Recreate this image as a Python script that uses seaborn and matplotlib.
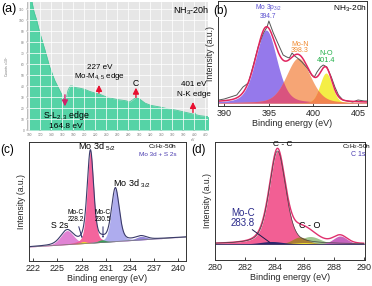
import numpy as np
import pandas as pd
import seaborn as sns
import matplotlib
matplotlib.use("Agg")
import matplotlib.pyplot as plt

# ---------------- data ----------------
# (a) EELS spectrum
ev_a = [100, 104, 108, 113, 119, 128, 137, 146, 155, 160, 163, 165, 167, 170, 174, 178,
        185, 192, 200, 210, 220, 228, 240, 252, 262, 270, 276, 282, 288, 294, 298, 302,
        310, 320, 336, 350, 367, 380, 395, 400, 401, 402, 410, 427]
counts_a = [130, 118, 108, 100, 88, 73, 57, 45, 36, 31, 27, 26, 29, 36, 40, 40,
            38.5, 38, 37, 35, 33.5, 32.5, 30, 28.5, 27.5, 27, 26.5, 25.5, 27.5, 30, 29, 27.5,
            24.5, 22.5, 21, 19.5, 18, 16.5, 14.8, 14.2, 15.5, 14, 13, 12]
xticks_a = list(range(100, 421, 20))
yticks_a = list(range(0, 111, 10))

# (b) N 1s / Mo 3p raw data
ev_b = [389.4, 390.0, 390.7, 391.4, 392.1, 392.7, 393.2, 393.8, 394.4, 394.8, 395.0, 395.5,
        396.0, 396.6, 397.0, 397.3, 397.6, 397.9, 398.2, 398.7, 399.3, 399.8, 400.1, 400.4,
        400.8, 401.1, 401.5, 402.0, 402.4, 402.8, 403.3, 403.8, 404.4, 405.0, 405.7, 406.0]
int_b = [3, 4, 6, 8, 16, 20, 36, 56, 70, 76, 82, 70,
         60, 48, 46, 45, 50, 47, 45, 41, 35, 28, 26, 31,
         36, 38, 36, 26, 16, 8, 3, 2, 1, 3, 2, 2]
# components: center, height, fwhm, lorentz fraction
peaks_b = {"Mo 3p": (394.7, 73, 2.8, 0.3),
           "Mo-N": (398.3, 45, 3.2, 0.3),
           "N-O": (401.4, 30, 1.6, 0.15)}

# (c) Mo 3d + S 2s
base_c = (14, 24)     # background at left/right limit
peaks_c = {"S 2s": (226.2, 14, 1.9, 0.3),
           "Mo-C 228.2": (228.2, 2, 1.0, 0.2),
           "Mo 3d5/2": (229.1, 92, 0.95, 0.35),
           "Mo-C 230.5": (230.5, 2.5, 1.2, 0.2),
           "Mo 3d3/2": (232.2, 53, 1.15, 0.35),
           "sat": (235.4, 3.5, 1.6, 0.2)}
xticks_c = [222, 225, 228, 231, 234, 237, 240]

# (d) C 1s
base_d = 16
peaks_d = {"C-C": (284.2, 93, 1.3, 0.4),
           "Mo-C": (283.8, 2.5, 1.8, 0.2),
           "C-O": (285.7, 7, 1.2, 0.2),
           "C=O": (286.4, 7.5, 1.6, 0.2),
           "y": (286.0, 1.5, 1.5, 0.2),
           "O-C=O": (288.4, 8, 1.1, 0.2)}
xticks_d = [280, 282, 284, 286, 288, 290]

# ---------------- style ----------------
sns.set_theme(style="ticks")
plt.rcParams["font.family"] = ["Liberation Sans", "DejaVu Sans"]
plt.rcParams["mathtext.fontset"] = "custom"
plt.rcParams["mathtext.rm"] = "Liberation Sans"
plt.rcParams["mathtext.it"] = "Liberation Sans:italic"
plt.rcParams["mathtext.default"] = "regular"

W, H = 372, 286
fig = plt.figure(figsize=(W / 100, H / 100), dpi=100)


def P(x, y):
    return x / W, 1 - y / H


def add_ax(l, t, r, b):
    return fig.add_axes([l / W, 1 - b / H, (r - l) / W, (b - t) / H])


def pv(x, c, h, w, eta):
    g = np.exp(-4 * np.log(2) * ((x - c) / w) ** 2)
    lo = 1 / (1 + 4 * ((x - c) / w) ** 2)
    return h * ((1 - eta) * g + eta * lo)


def txt(x, y, s, fs=6, color="black", **kw):
    fig.text(*P(x, y), s, ha="center", va="center", fontsize=fs, color=color, **kw)


def style_xps(ax, xlim, xticks, ylim):
    ax.set_xlim(*xlim)
    ax.set_ylim(*ylim)
    ax.set_xticks(xticks)
    ax.set_yticks([])
    ax.tick_params(axis="x", direction="in", length=2, width=0.6, labelsize=6.5, pad=2)
    for s in ax.spines.values():
        s.set_linewidth(0.7)
        s.set_color("#333333")
    ax.set_xlabel("Binding energy (eV)", fontsize=6.5, labelpad=1)
    ax.set_ylabel("Intensity (a.u.)", fontsize=6.2, labelpad=2)


# ---------------- (a) ----------------
axA = add_ax(27, 2, 208, 130)
axA.set_facecolor("#e6e6e6")
dfa = pd.DataFrame({"eV": ev_a, "counts": counts_a})
axA.fill_between(dfa["eV"], dfa["counts"], color="#55d3a6", lw=0)
sns.lineplot(data=dfa, x="eV", y="counts", ax=axA, color="#48c89a", lw=0.6)
axA.set_xlim(95.5, 424.6)
axA.set_ylim(0, 116.4)
axA.set_xticks(xticks_a)
axA.set_yticks(yticks_a)
axA.grid(True, color="white", lw=0.7, alpha=0.75)
axA.set_axisbelow(False)
axA.tick_params(labelsize=2.3, length=1, width=0.3, colors="#777777", pad=1)
for s in axA.spines.values():
    s.set_visible(False)
axA.spines["left"].set_visible(True)
axA.spines["left"].set_color("#aaaaaa")
axA.spines["left"].set_linewidth(0.5)
axA.set_xlabel("eV", fontsize=2.5, color="#777777", labelpad=0.5)
axA.xaxis.set_label_coords(0.92, -0.065)
axA.set_ylabel(r"Counts x 10$^3$", fontsize=2.5, color="#777777", labelpad=6)

arrow_kw = dict(arrowstyle="-|>,head_width=0.35,head_length=0.7", lw=1.0,
                color="#e81030", mutation_scale=5, shrinkA=0, shrinkB=0)
axA.annotate("", xy=(226.4, 41), xytext=(226.4, 33.5), arrowprops=arrow_kw)
axA.annotate("", xy=(293.6, 38.5), xytext=(293.6, 29.5), arrowprops=arrow_kw)
axA.annotate("", xy=(397.3, 25.5), xytext=(397.3, 16), arrowprops=arrow_kw)
arrow_s = dict(arrow_kw)
arrow_s["color"] = "#d0206a"
axA.annotate("", xy=(164.5, 21.5), xytext=(164.5, 32), arrowprops=arrow_s)

txt(9, 9, "(a)", fs=9)
txt(191, 11, r"NH$_3$-20h", fs=6.5)
txt(100, 68, "227 eV", fs=5.8)
txt(100, 76.5, r"Mo-M$_{4,5}$ edge", fs=5.8)
txt(136, 84, "C", fs=6.2)
txt(194, 85, "401 eV", fs=5.8)
txt(194, 94.5, "N-K edge", fs=5.8)
txt(67, 116, r"S-L$_{2,3}$ edge", fs=6.3)
txt(66, 127, "164.8 eV", fs=6)

# ---------------- (b) ----------------
axB = add_ax(218, 1, 367, 106)
xb = np.linspace(389.3, 406.0, 600)
comp_b = {k: pv(xb, *v) for k, v in peaks_b.items()}
colors_b = {"Mo 3p": "#8f72ea", "Mo-N": "#f6a06e", "N-O": "#f4ee3c"}
for k, y in comp_b.items():
    axB.fill_between(xb, 0, y, color=colors_b[k], lw=0, alpha=0.95)
axB.fill_between(xb, 0, np.minimum(comp_b["Mo 3p"], comp_b["Mo-N"]), color="#d9537f", lw=0)
axB.fill_between(xb, 0, np.minimum(comp_b["Mo-N"], comp_b["N-O"]), color="#f2844e", lw=0)
env_b = sum(comp_b.values())
sns.lineplot(x=ev_b, y=int_b, ax=axB, color="#555555", lw=0.7)
sns.lineplot(x=xb, y=env_b, ax=axB, color="#e0245e", lw=1.1)
style_xps(axB, (389.3, 406.0), [390, 395, 400, 405], (-3, 102))

txt(220, 11, "(b)", fs=8.5, bbox=dict(facecolor="white", edgecolor="none", pad=0.3))
txt(350, 9, r"NH$_3$-20h", fs=6)
txt(268, 7.5, r"Mo 3p$_{3/2}$", fs=4.8, color="#5a4fcf")
txt(268, 16, "394.7", fs=4.8, color="#5a4fcf")
txt(300, 44, "Mo-N", fs=5, color="#f08a30")
txt(300, 51, "398.3", fs=5, color="#f08a30")
txt(326, 54, "N-O", fs=5.3, color="#22b04a")
txt(326, 61, "401.4", fs=5.3, color="#22b04a")

# ---------------- (c) ----------------
axC = add_ax(29, 142, 186, 261)
xc = np.linspace(221.47, 240.97, 800)
bg_c = base_c[0] + (xc - xc[0]) * (base_c[1] - base_c[0]) / (xc[-1] - xc[0])
comp_c = {k: pv(xc, *v) for k, v in peaks_c.items()}
colors_c = {"S 2s": "#e07cd2", "Mo-C 228.2": "#f0e020", "Mo 3d5/2": "#f45c98",
            "Mo-C 230.5": "#2fa050", "Mo 3d3/2": "#aaa8ee", "sat": "#8f80dc"}
for k in ["S 2s", "Mo 3d5/2", "Mo 3d3/2", "sat", "Mo-C 228.2", "Mo-C 230.5"]:
    axC.fill_between(xc, bg_c, bg_c + comp_c[k], color=colors_c[k], lw=0, alpha=0.95)
env_c = bg_c + sum(comp_c.values())
sns.lineplot(x=xc, y=bg_c, ax=axC, color="#777777", lw=0.5)
sns.lineplot(x=xc, y=env_c, ax=axC, color="#3a3a6a", lw=0.8)
style_xps(axC, (221.47, 240.97), xticks_c, (0, 119))

txt(7, 150, "(c)", fs=8.5)
txt(97, 147, r"Mo 3d $_{5/2}$", fs=6.5)
txt(132, 184, r"Mo 3d $_{3/2}$", fs=6.5)
txt(60, 226, "S 2s", fs=6.3)
txt(76, 212.5, "Mo-C", fs=4.8)
txt(76, 219.5, "228.2", fs=4.8)
txt(103, 212.5, "Mo-C", fs=4.8)
txt(103, 219.5, "230.5", fs=4.8)
ak = dict(arrowstyle="-|>,head_width=0.12,head_length=0.3", lw=0.7, color="#2a2a6a")
fig.add_artist(matplotlib.patches.FancyArrowPatch(P(78, 224), P(83, 241), transform=fig.transFigure, **ak))
fig.add_artist(matplotlib.patches.FancyArrowPatch(P(103, 224), P(103, 241), transform=fig.transFigure, **ak))
txt(163, 146.5, r"C$_2$H$_2$-50h", fs=4.6)
txt(158, 154, "Mo 3d + S 2s", fs=4.6, color="#4a3cb0")

# ---------------- (d) ----------------
axD = add_ax(215, 142, 365, 260)
xd = np.linspace(280, 290, 600)
comp_d = {k: pv(xd, *v) for k, v in peaks_d.items()}
colors_d = {"C-C": "#f2568e", "Mo-C": "#22226a", "C-O": "#a97c30", "C=O": "#9cc48a",
            "y": "#f0e030", "O-C=O": "#c45cbc"}
for k in ["C-C", "C=O", "C-O", "O-C=O", "y", "Mo-C"]:
    axD.fill_between(xd, base_d, base_d + comp_d[k], color=colors_d[k], lw=0, alpha=0.95)
env_d = base_d + sum(comp_d.values())
sns.lineplot(x=xd, y=env_d, ax=axD, color="#e0306e", lw=1.0)
sns.lineplot(x=xd, y=base_d + comp_d["C-C"], ax=axD, color="#444444", lw=0.5)
sns.lineplot(x=xd, y=np.full_like(xd, base_d), ax=axD, color="#333366", lw=0.6)
style_xps(axD, (280, 290.07), xticks_d, (0, 118))

txt(199, 150, "(d)", fs=8.5)
txt(283, 145, "C - C", fs=6)
txt(357, 146.5, r"C$_2$H$_2$-50h", fs=4.6)
txt(358, 154, "C 1s", fs=5, color="#4a3cb0")
txt(243, 213, "Mo-C", fs=7, color="#2a2a8a")
txt(243, 223, "283.8", fs=7, color="#2a2a8a")
fig.add_artist(matplotlib.patches.FancyArrowPatch(P(250, 228), P(272, 244), transform=fig.transFigure,
                                                  arrowstyle="-", lw=0.7, color="#1a1a4a"))
txt(310, 225, "C - O", fs=6.5)

fig.savefig("out.png", dpi=100)
